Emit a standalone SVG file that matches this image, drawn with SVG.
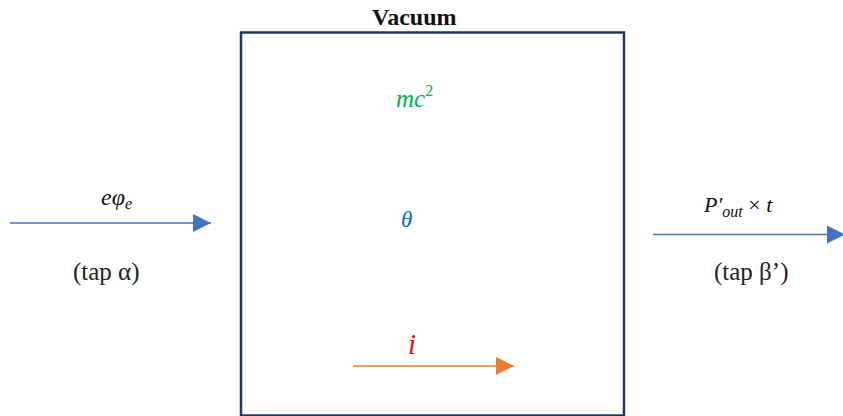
<svg xmlns="http://www.w3.org/2000/svg" width="843" height="416" viewBox="0 0 843 416">
<defs>
<marker id="ab" viewBox="0 0 10 10" refX="10" refY="5" markerWidth="18" markerHeight="18" markerUnits="userSpaceOnUse" orient="auto"><path d="M0,0L10,5L0,10z" fill="#4472c4"/></marker>
<marker id="ao" viewBox="0 0 10 10" refX="10" refY="5" markerWidth="18" markerHeight="18" markerUnits="userSpaceOnUse" orient="auto"><path d="M0,0L10,5L0,10z" fill="#ed7d31"/></marker>
</defs>
<rect width="843" height="416" fill="#fff"/>
<g id="vacuum" font-family="'Liberation Serif', 'Times New Roman', 'DejaVu Serif', serif">
<rect x="241" y="32.5" width="383" height="383" fill="none" stroke="#1f3864" stroke-width="2.5"/>
<text x="372" y="25" font-weight="bold" font-size="24" fill="#111">Vacuum</text>
<text x="396" y="107" font-style="italic" font-size="25" fill="#00b050">mc<tspan dy="-11" font-size="16" font-style="normal">2</tspan></text>
<text x="401" y="227" font-style="italic" font-size="23" fill="#0070c0">θ</text>
<text x="408" y="354" font-style="italic" font-size="29" fill="#e81010">i</text>
</g>
<g id="input" font-family="'Liberation Serif', 'Times New Roman', 'DejaVu Serif', serif">
<text x="101" y="205" font-style="italic" font-size="24" fill="#111">eφ<tspan dy="4" font-size="16">e</tspan></text>
<text x="73" y="280" font-size="25" fill="#222">(tap α)</text>
</g>
<g id="output" font-family="'Liberation Serif', 'Times New Roman', 'DejaVu Serif', serif">
<text x="704" y="212" font-style="italic" font-size="22" fill="#111">P′<tspan dy="5" font-size="16">out</tspan><tspan dy="-5" font-style="normal"> × </tspan>t</text>
<text x="714" y="280" font-size="25" fill="#222">(tap β’)</text>
</g>
<g id="connectors" fill="none" stroke-width="1.6">
<line x1="10" y1="223" x2="211" y2="223" stroke="#4472c4" marker-end="url(#ab)"/>
<line x1="653" y1="234.5" x2="845" y2="234.5" stroke="#4472c4" marker-end="url(#ab)"/>
<line x1="353" y1="366" x2="514" y2="366" stroke="#ed7d31" marker-end="url(#ao)"/>
</g>
</svg>
